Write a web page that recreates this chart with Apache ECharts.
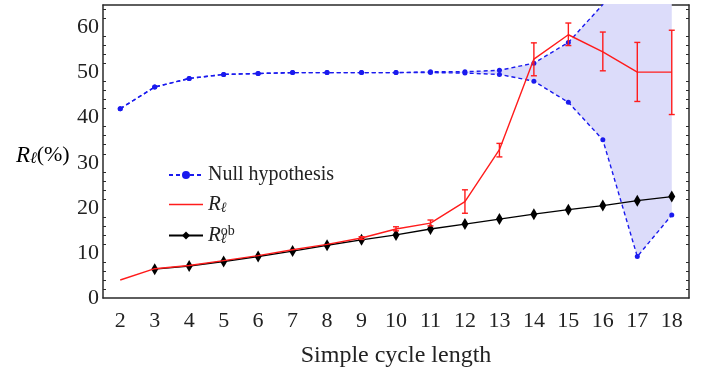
<!DOCTYPE html>
<html>
<head>
<meta charset="utf-8">
<script src="https://cdn.jsdelivr.net/npm/echarts@6/dist/echarts.min.js"></script>
<style>
  html, body { margin: 0; padding: 0; background: #fff; }
  #chart { width: 713px; height: 376px; }
</style>
</head>
<body>
<div id="chart"></div>
<script>
// simple cycle lengths 2..18
const lengths = ['2', '3', '4', '5', '6', '7', '8', '9', '10', '11', '12', '13', '14', '15', '16', '17', '18'];
// null hypothesis band (upper / lower), values above 65 run off the top of the plot
const nullUpper = [42.0, 46.8, 48.7, 49.6, 49.8, 50.0, 50.0, 50.0, 50.0, 50.2, 50.2, 50.5, 52.1, 56.7, 65.1, 85, 95];
const nullLower = [42.0, 46.8, 48.7, 49.6, 49.8, 50.0, 50.0, 50.0, 50.0, 50.0, 49.9, 49.6, 48.1, 43.4, 35.1, 9.2, 18.4];
// R_l with error bars
const rEll = [4.0, 6.5, 7.2, 8.3, 9.4, 10.7, 11.9, 13.3, 15.3, 16.6, 21.4, 32.9, 53.0, 58.4, 54.6, 50.1, 50.1];
const rLow = [null, null, null, null, null, null, null, 13.0, 14.9, 16.0, 18.8, 31.3, 49.3, 56.0, 50.4, 43.6, 40.7];
const rHigh = [null, null, null, null, null, null, null, 13.6, 15.8, 17.3, 24.0, 34.3, 56.6, 61.0, 59.0, 56.7, 59.4];
// observed R_l^ob
const rObs = [null, 6.4, 7.1, 8.1, 9.2, 10.4, 11.7, 12.9, 14.0, 15.3, 16.4, 17.5, 18.6, 19.6, 20.5, 21.6, 22.5];

const font = '"Liberation Serif", "DejaVu Serif", serif';
const blue = '#1a1aee';
const red = '#ff1c1c';
const axisColor = '#2a2a2a';

const errData = [];
rLow.forEach((lo, i) => {
  if (lo != null) errData.push([i, lo, rHigh[i]]);
});
const bandDiff = nullUpper.map((u, i) => u - nullLower[i]);

function richSet(base) {
  return {
    i: { fontFamily: font, fontStyle: 'italic', fontSize: base + 1, lineHeight: 22, verticalAlign: 'middle', color: '#222' },
    n: { fontFamily: font, fontSize: base, lineHeight: 22, verticalAlign: 'middle', color: '#222' },
    sub: { fontFamily: font, fontStyle: 'italic', fontSize: base - 6, lineHeight: 12, verticalAlign: 'bottom', color: '#222' },
    sub0: { fontFamily: font, fontStyle: 'italic', fontSize: base - 6, lineHeight: 12, width: 0, verticalAlign: 'bottom', color: '#222' },
    sup: { fontFamily: font, fontSize: base - 6, lineHeight: 12, verticalAlign: 'top', color: '#222' }
  };
}

const chart = echarts.init(document.getElementById('chart'));
chart.setOption({
  animation: false,
  grid: { left: 103, right: 24, top: 5, bottom: 78 },
  legend: {
    orient: 'vertical',
    left: 163,
    top: 160,
    itemWidth: 34,
    itemHeight: 10,
    itemGap: 9,
    data: [
      { name: 'Null hypothesis' },
      { name: 'R', icon: 'path://M0,0H34V1.4H0Z', itemStyle: { color: red } },
      { name: 'Rob' }
    ],
    formatter: name => {
      if (name === 'R') return '{i|R}{sub|ℓ}';
      if (name === 'Rob') return '{i|R}{sub0|ℓ}{sup|ob}';
      return '{n|' + name + '}';
    },
    textStyle: { fontFamily: font, fontSize: 20, color: '#222', rich: richSet(20) }
  },
  graphic: [{
    type: 'text',
    left: 16,
    top: 144,
    style: { text: '{i|R}{sub|ℓ}{n|(%)}', rich: richSet(22) }
  }],
  xAxis: [{
    type: 'category',
    data: lengths,
    boundaryGap: true,
    name: 'Simple cycle length',
    nameLocation: 'middle',
    nameGap: 46,
    nameTextStyle: { fontFamily: font, fontSize: 24, color: '#222' },
    axisLine: { lineStyle: { color: axisColor, width: 1.5 } },
    axisTick: { inside: true, alignWithLabel: true, length: 5, lineStyle: { color: axisColor } },
    axisLabel: { fontFamily: font, fontSize: 22, color: '#222', margin: 12 },
    splitLine: { show: false }
  }, {
    type: 'category',
    data: lengths,
    position: 'top',
    boundaryGap: true,
    axisLine: { show: true, onZero: false, lineStyle: { color: axisColor, width: 1.5 } },
    axisTick: { show: false },
    axisLabel: { show: false }
  }],
  yAxis: [{
    type: 'value',
    min: 0,
    max: 65,
    interval: 10,
    axisLine: { show: true, lineStyle: { color: axisColor, width: 1.5 } },
    axisTick: { inside: true, length: 6, lineStyle: { color: axisColor } },
    minorTick: { show: true, splitNumber: 5, length: 3, lineStyle: { color: axisColor } },
    axisLabel: { fontFamily: font, fontSize: 22, color: '#222', margin: 4, showMaxLabel: false },
    splitLine: { show: false }
  }, {
    type: 'value',
    min: 0,
    max: 65,
    interval: 10,
    position: 'right',
    axisLine: { show: true, lineStyle: { color: axisColor, width: 1.5 } },
    axisTick: { inside: true, length: 6, lineStyle: { color: axisColor } },
    minorTick: { show: true, splitNumber: 5, length: 3, lineStyle: { color: axisColor } },
    axisLabel: { show: false },
    splitLine: { show: false }
  }],
  series: [
    {
      name: 'bandBase',
      type: 'line',
      stack: 'band',
      data: nullLower,
      symbol: 'none',
      lineStyle: { opacity: 0 },
      silent: true,
      z: 1
    },
    {
      name: 'band',
      type: 'line',
      stack: 'band',
      data: bandDiff,
      symbol: 'none',
      lineStyle: { opacity: 0 },
      areaStyle: { color: '#dcdcfa', opacity: 1 },
      silent: true,
      z: 1
    },
    {
      name: 'Null hypothesis',
      type: 'line',
      data: nullUpper,
      symbol: 'circle',
      symbolSize: 5,
      itemStyle: { color: blue },
      lineStyle: { color: blue, width: 1.4, type: [4, 3] },
      z: 3
    },
    {
      name: 'Null hypothesis',
      type: 'line',
      data: nullLower,
      symbol: 'circle',
      symbolSize: 5,
      itemStyle: { color: blue },
      lineStyle: { color: blue, width: 1.4, type: [4, 3] },
      z: 3
    },
    {
      name: 'Rob',
      type: 'line',
      data: rObs,
      symbol: 'diamond',
      symbolSize: [7, 12],
      itemStyle: { color: '#000' },
      lineStyle: { color: '#000', width: 1.4 },
      z: 4
    },
    {
      name: 'R',
      type: 'line',
      data: rEll,
      symbol: 'none',
      itemStyle: { color: red },
      lineStyle: { color: red, width: 1.4 },
      z: 5
    },
    {
      name: 'Rerr',
      type: 'custom',
      data: errData,
      encode: { x: 0, y: [1, 2] },
      z: 6,
      renderItem: (params, api) => {
        const idx = api.value(0);
        const lo = api.coord([idx, api.value(1)]);
        const hi = api.coord([idx, api.value(2)]);
        const w = 3;
        const style = { stroke: red, lineWidth: 1.4 };
        return {
          type: 'group',
          children: [
            { type: 'line', shape: { x1: lo[0], y1: lo[1], x2: hi[0], y2: hi[1] }, style },
            { type: 'line', shape: { x1: lo[0] - w, y1: lo[1], x2: lo[0] + w, y2: lo[1] }, style },
            { type: 'line', shape: { x1: hi[0] - w, y1: hi[1], x2: hi[0] + w, y2: hi[1] }, style }
          ]
        };
      }
    }
  ]
});
</script>
</body>
</html>
